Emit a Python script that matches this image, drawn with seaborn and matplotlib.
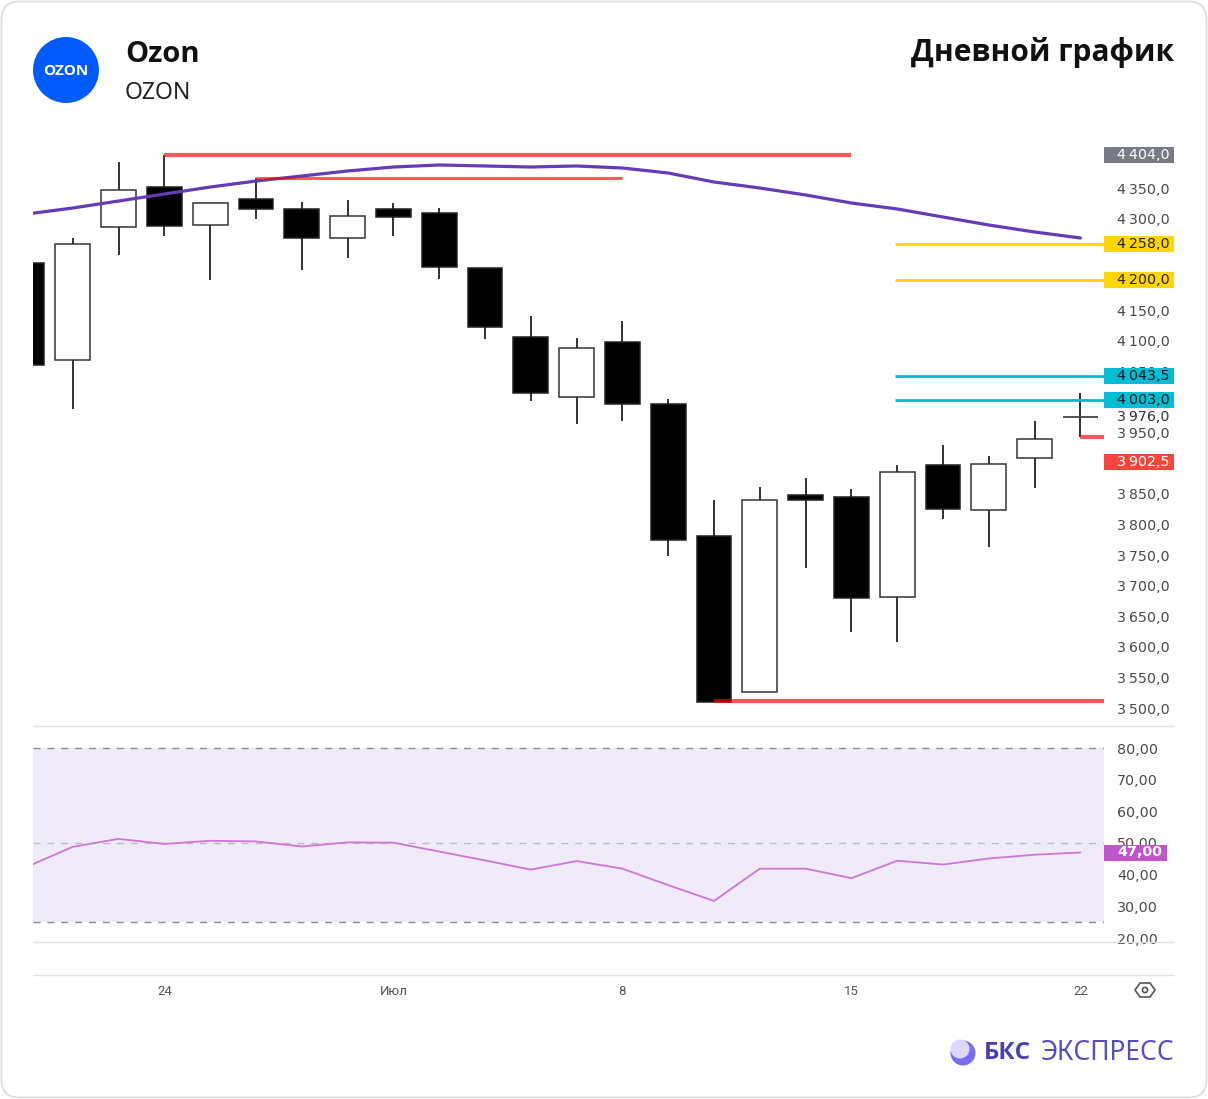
import matplotlib
matplotlib.use("Agg")
import matplotlib.pyplot as plt
import matplotlib.transforms as mtrans
from matplotlib import font_manager as fm
from matplotlib.patches import Rectangle, FancyBboxPatch, Circle, Polygon
import seaborn as sns
import numpy as np
import pandas as pd

# ---------------- data ----------------
dates = ["2024-06-19", "2024-06-20", "2024-06-21", "2024-06-24", "2024-06-25",
         "2024-06-26", "2024-06-27", "2024-06-28", "2024-07-01", "2024-07-02",
         "2024-07-03", "2024-07-04", "2024-07-05", "2024-07-08", "2024-07-09",
         "2024-07-10", "2024-07-11", "2024-07-12", "2024-07-15", "2024-07-16",
         "2024-07-17", "2024-07-18", "2024-07-19", "2024-07-22"]
opens = [4227.4, 4068.9, 4286.3, 4351.6, 4289.5, 4332.0, 4315.7, 4268.3, 4315.7, 4309.1,
         4219.2, 4106.4, 4008.4, 4098.3, 3996.9, 3781.2, 3526.2, 3848.2, 3844.9, 3681.4,
         3897.2, 3823.7, 3908.7, 3976.0]
highs = [4235.0, 4268.3, 4392.5, 4404.0, 4325.5, 4366.3, 4327.1, 4330.4, 4325.5, 4317.3,
         4219.2, 4140.8, 4104.8, 4132.6, 4005.1, 3840.0, 3861.3, 3876.0, 3858.0, 3897.2,
         3930.0, 3911.9, 3969.1, 4014.9]
lows = [4055.0, 3988.8, 4240.5, 4271.5, 4199.6, 4299.3, 4216.0, 4235.6, 4271.5, 4201.3,
        4103.2, 4001.8, 3964.2, 3969.1, 3748.5, 3509.8, 3526.2, 3728.9, 3624.2, 3607.9,
        3808.9, 3763.2, 3859.6, 3943.0]
closes = [4060.7, 4258.5, 4346.7, 4287.9, 4325.5, 4315.7, 4268.3, 4304.2, 4302.6, 4220.9,
          4122.8, 4014.9, 4088.5, 3996.9, 3774.6, 3509.8, 3840.0, 3840.0, 3679.8, 3885.8,
          3825.3, 3898.9, 3939.7, 3976.0]
ma_values = [4307.5, 4317.3, 4328.7, 4340.2, 4351.6, 4361.4, 4369.6, 4377.8, 4384.3, 4387.6,
             4386.0, 4384.3, 4386.0, 4382.7, 4374.5, 4359.8, 4350.0, 4338.6, 4325.5, 4315.7,
             4302.6, 4289.5, 4278.1, 4268.3]
rsi_values = [42.5, 48.8, 51.3, 49.7, 50.7, 50.5, 48.9, 50.2, 50.1, 47.3,
              44.5, 41.6, 44.3, 41.9, 36.7, 31.7, 41.9, 41.9, 38.9, 44.4,
              43.2, 45.1, 46.3, 47.0]

# resistance / support lines: value, start date index, end date index (None = right edge)
red_levels = [4404.0, 4366.0, 3512.0, 3943.0]
red_start = [3, 5, 15, 23]
red_end = [18, 13, None, None]
yellow_levels = [4258.0, 4200.0]
cyan_levels = [4043.5, 4003.0]
last_price = 3976.0
price_tag = 3902.5
rsi_last = 47.0

price_ticks = [3500, 3550, 3600, 3650, 3700, 3750, 3800, 3850, 3950, 4050,
               4100, 4150, 4300, 4350]
rsi_ticks = [20, 30, 40, 50, 60, 70, 80]
rsi_bands = [80, 50, 25]
date_tick_idx = [3, 8, 13, 18, 23]
date_tick_labels = ["24", "Июл", "8", "15", "22"]

title_name = "Ozon"
title_ticker = "OZON"
chart_title = "Дневной график"

# ---------------- setup ----------------
sns.set_theme(style="white")
plt.rcParams['font.family'] = ['DejaVu Sans']


def pick_bold(cands):
    for fam in cands:
        try:
            path = fm.findfont(fm.FontProperties(family=fam, weight="bold"),
                               fallback_to_default=False)
        except Exception:
            continue
        name = path.lower()
        if "bold" in name or "black" in name or "heavy" in name or "[" in name or "variable" in name:
            return fam
    return "DejaVu Sans"


BOLD_FAM = pick_bold(["Open Sans", "Noto Sans", "Roboto", "Lato", "Inter", "Liberation Sans"])
REG_FAM = "Noto Sans"

W, H = 1208, 1099
fig = plt.figure(figsize=(W / 100, H / 100), dpi=100)
fig.patch.set_facecolor("white")

df = pd.DataFrame({"date": pd.to_datetime(dates), "open": opens, "high": highs,
                   "low": lows, "close": closes, "ma": ma_values, "rsi": rsi_values})
df["i"] = np.arange(len(df))

step = 45.8
x0 = 27.0
xl = ((33 - x0) / step, (1104 - x0) / step)
kpx = 850.0 / 520.0  # price units per pixel


def p_of(y):
    return 4350 - (y - 188) * kpx


# ---------------- price axes ----------------
ax = fig.add_axes([33 / W, 1 - 726 / H, (1104 - 33) / W, (726 - 140) / H])
ax.set_xlim(*xl)
ax.set_ylim(p_of(726), p_of(140))
for s in ax.spines.values():
    s.set_visible(False)
ax.set_xticks([])
ax.yaxis.tick_right()
ax.set_yticks(price_ticks)
ax.set_yticklabels([f"{v // 1000}\u2009{v % 1000:03d},0" for v in price_ticks])
ax.tick_params(axis='y', length=0, pad=9.4, labelsize=10.3, labelcolor='#4a4a4a')
ax.patch.set_alpha(0)

bw = 0.76
for _, r in df.iterrows():
    i = r["i"]
    ax.vlines(i, r["low"], r["high"], color="#222222", lw=1.3, zorder=1)
    o, c = r["open"], r["close"]
    if abs(o - c) < 0.5:
        ax.hlines(o, i - bw / 2, i + bw / 2, color="#444444", lw=1.3, zorder=2)
        continue
    bear = c < o
    ax.add_patch(Rectangle((i - bw / 2, min(o, c)), bw, abs(o - c),
                           facecolor="black" if bear else "white",
                           edgecolor="#222222" if bear else "#333333",
                           lw=1.1, zorder=2))

sns.lineplot(data=df, x="i", y="ma", ax=ax, color="#673ab7", lw=2.3, zorder=3)
ax.set_xlabel("")
ax.set_ylabel("")

right_edge = len(df) - 1 + 0.52
for lv, s0, s1 in zip(red_levels, red_start, red_end):
    e = right_edge if s1 is None else s1
    lw = 2.2 if lv == 4366.0 else 3.0
    ax.hlines(lv, s0, e, color="#ff0000", alpha=0.65, lw=lw, zorder=4)
yl_start = (895 - x0) / step
for lv in yellow_levels:
    ax.hlines(lv, yl_start, right_edge, color="#ffd600", lw=2.0, zorder=4)
for lv in cyan_levels:
    ax.hlines(lv, yl_start, right_edge, color="#00bcd4", lw=2.0, zorder=4)

blend = mtrans.blended_transform_factory(ax.transAxes, ax.transData)
axw = 1104 - 33
box_h = 16 * kpx
lab_x = 1 + 13 / axw


def fmt_price(v):
    s = f"{v:.1f}".replace(".", ",")
    return s[0] + "\u2009" + s[1:]


def tag(value, fc, tc, width_px=70):
    ax.add_patch(Rectangle((1.0, value - box_h / 2), width_px / axw, box_h, transform=blend,
                           facecolor=fc, edgecolor="none", clip_on=False, zorder=6))
    ax.text(lab_x, value, fmt_price(value), transform=blend, ha="left", va="center",
            fontsize=10.3, color=tc, zorder=7, clip_on=False)


tag(highs[3], "#787b86", "white")
for lv in yellow_levels:
    tag(lv, "#ffd600", "#222222")
for lv in cyan_levels:
    tag(lv, "#00bcd4", "#1a1a1a")
tag(price_tag, "#f5463c", "white")
ax.text(lab_x, last_price, fmt_price(last_price), transform=blend, ha="left", va="center",
        fontsize=10.3, color="#333333", zorder=7, clip_on=False)

# ---------------- RSI axes ----------------
kr = 30.0 / 95.0
ax2 = fig.add_axes([33 / W, 1 - 942 / H, (1104 - 33) / W, (942 - 727) / H])
ax2.set_xlim(*xl)
ax2.set_ylim(80 - (942 - 748) * kr, 80 + (748 - 727) * kr)
for s in ax2.spines.values():
    s.set_visible(False)
ax2.set_xticks([])
ax2.yaxis.tick_right()
ax2.set_yticks(rsi_ticks)
ax2.set_yticklabels([f"{v},00" for v in rsi_ticks])
ax2.tick_params(axis='y', length=0, pad=9.4, labelsize=10.3, labelcolor='#4a4a4a')
ax2.patch.set_alpha(0)
ax2.axhspan(rsi_bands[2], rsi_bands[0], color="#efebf8", zorder=0, lw=0)
for b in rsi_bands:
    ax2.axhline(b, color="#8a8d96" if b != 50 else "#b9bbc3", lw=1.0,
                ls=(0, (5, 5)), zorder=1)
sns.lineplot(data=df, x="i", y="rsi", ax=ax2, color="#cf74d9", lw=1.3, zorder=3)
ax2.set_xlabel("")
ax2.set_ylabel("")
blend2 = mtrans.blended_transform_factory(ax2.transAxes, ax2.transData)
rb_h = 16 * kr
ax2.add_patch(Rectangle((1.0, rsi_last - rb_h / 2), 63 / axw, rb_h, transform=blend2,
                        facecolor="#c054c8", edgecolor="none", clip_on=False, zorder=6))
ax2.text(lab_x, rsi_last, f"{rsi_last:.2f}".replace(".", ","), transform=blend2,
         ha="left", va="center", fontsize=10.3, color="white", fontweight="bold",
         zorder=7, clip_on=False)

# ---------------- time axis ----------------
ax3 = fig.add_axes([33 / W, 1 - 975 / H, (1104 - 33) / W, (975 - 942) / H])
ax3.set_xlim(*xl)
ax3.set_ylim(0, 1)
for s in ax3.spines.values():
    s.set_visible(False)
ax3.set_yticks([])
ax3.set_xticks(date_tick_idx)
ax3.set_xticklabels(date_tick_labels, fontfamily="Roboto")
ax3.tick_params(axis='x', length=0, pad=7, labelsize=9.5, labelcolor='#555555')
ax3.patch.set_alpha(0)

# ---------------- overlay ----------------
ov = fig.add_axes([0, 0, 1, 1], zorder=10)
ov.set_xlim(0, W)
ov.set_ylim(H, 0)
ov.axis("off")
ov.patch.set_alpha(0)

ov.add_patch(FancyBboxPatch((1.5, 1.5), W - 3, H - 3,
                            boxstyle="round,pad=0,rounding_size=18",
                            fc="none", ec="#dedede", lw=1.3))
for yy in (726, 942, 975):
    ov.plot([33, 1174], [yy, yy], color="#e0e3eb", lw=1.0)

# eye icon
ov.add_patch(Polygon([(1135, 990), (1140, 983), (1150, 983), (1155, 990), (1150, 997), (1140, 997)],
                     closed=True, fc="none", ec="#555555", lw=1.2))
ov.add_patch(Circle((1145, 990), 2.6, fc="none", ec="#555555", lw=1.2))

# header
ov.add_patch(Circle((66, 70), 33, fc="#005bff", ec="none"))
ov.text(66, 71, "OZON", ha="center", va="center", fontsize=11, fontweight="bold",
        color="white", family=BOLD_FAM)
ov.text(125, 54, title_name, ha="left", va="center", fontsize=21, fontweight="bold",
        color="#111111", family=BOLD_FAM)
ov.text(125, 93, title_ticker, ha="left", va="center", fontsize=16.5,
        color="#222222", family=REG_FAM)
ov.text(1174, 52, chart_title, ha="right", va="center", fontsize=21.5, fontweight="bold",
        color="#111111", family=BOLD_FAM)

# footer logo
ov.add_patch(Circle((963, 1053), 12.5, fc="#7a6cf0", ec="none"))
ov.add_patch(Circle((960, 1049), 9.5, fc="#dcd7ff", ec="none"))
ov.text(1031, 1053, "БКС", ha="right", va="center", fontsize=17.5, fontweight="bold",
        color="#4b3fb0", family=BOLD_FAM)
ov.text(1175, 1053, "ЭКСПРЕСС", ha="right", va="center", fontsize=19,
        color="#5a4cc8", family=REG_FAM)

fig.savefig("out.png", dpi=100)
